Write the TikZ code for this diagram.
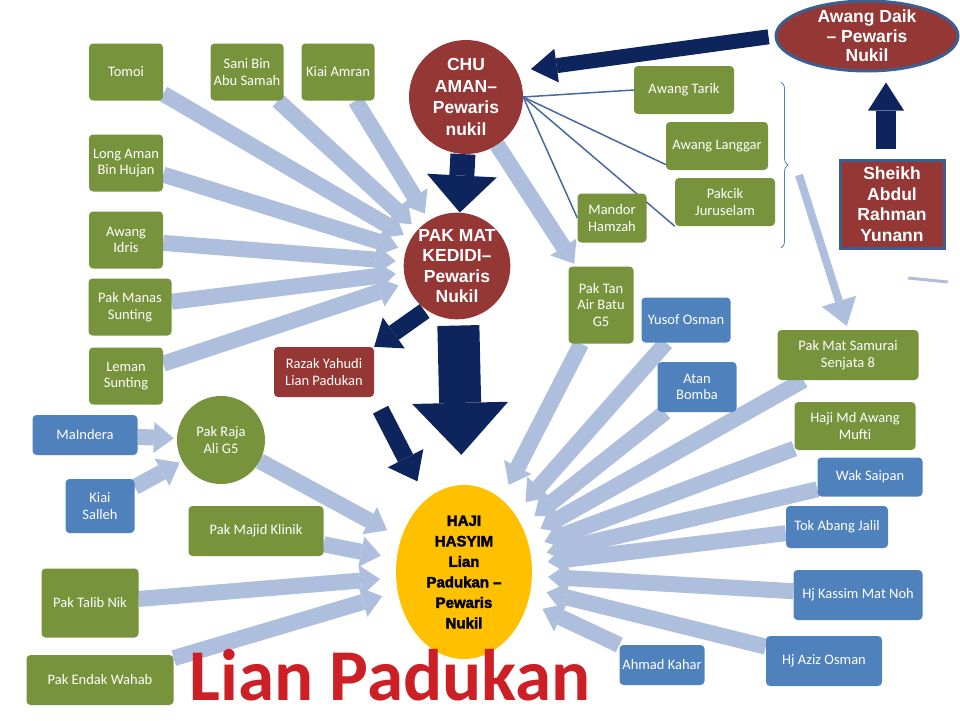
\documentclass[tikz,border=0pt]{standalone}
\usepackage{fontspec}
\setmainfont{Carlito}
\newfontfamily\heavyfont{Liberation Sans}
\newfontfamily\blackfont{Liberation Sans}[BoldFeatures={FakeBold=2.5}]
\usetikzlibrary{arrows.meta, shapes.geometric, decorations.pathreplacing}

\definecolor{leaf}{RGB}{119,147,60}
\definecolor{sky}{RGB}{79,129,189}
\definecolor{brick}{RGB}{149,55,53}
\definecolor{deepnavy}{RGB}{14,36,92}
\definecolor{pale}{RGB}{174,191,222}
\definecolor{linkblue}{RGB}{70,105,160}
\definecolor{rimblue}{RGB}{60,95,145}
\definecolor{gold}{RGB}{255,192,0}
\definecolor{titlered}{RGB}{205,32,38}

\pgfdeclarelayer{back}
\pgfsetlayers{back,main}

\tikzset{
  box/.style={rounded corners=4pt, text=white, align=center, inner sep=2pt,
    font=\fontsize{14.5}{16.5}\selectfont},
  greenbox/.style={box, fill=leaf},
  bluebox/.style={box, fill=sky},
  redbox/.style={box, fill=brick},
  heir/.style={circle, fill=brick, text=white, align=center, inner sep=0pt,
    font=\heavyfont\bfseries\fontsize{17.5}{21.5}\selectfont},
  feed/.style={draw=pale, line width=16pt,
    -{Triangle[length=20pt, width=31pt, line width=0pt]}, shorten >=8pt},
  link/.style={draw=linkblue, line width=1.5pt},
}

\begin{document}
\begin{tikzpicture}[x=1pt, y=-1pt]
    \useasboundingbox (0,0) rectangle (960,720);

    % Heirs
    \node[heir, minimum size=114pt] (chu) at (466,97) {CHU\\AMAN–\\Pewaris\\nukil};
    \node[heir, minimum size=106pt, font=\heavyfont\bfseries\fontsize{17.5}{20.5}\selectfont]
      (kedidi) at (457,266) {PAK MAT\\KEDIDI–\\Pewaris\\Nukil};
    \node[ellipse, fill=gold, align=center, inner sep=0pt, minimum width=136pt, minimum height=174pt,
      font=\blackfont\bfseries\fontsize{15}{20.5}\selectfont] (haji) at (464,572)
      {HAJI\\HASYIM\\Lian\\Padukan –\\Pewaris\\Nukil};
    \node[ellipse, fill=brick, draw=rimblue, line width=3pt, text=white, align=center, inner sep=0pt,
      inner ysep=-6pt, minimum width=182pt, minimum height=70pt,
      font=\heavyfont\bfseries\fontsize{17.5}{19.5}\selectfont] (daik) at (867,36) {Awang Daik\\– Pewaris\\Nukil};
    \node[fill=brick, draw=rimblue, line width=3pt, text=white, align=center,
      minimum width=104pt, minimum height=88pt,
      font=\heavyfont\bfseries\fontsize{17.5}{20.5}\selectfont] (sheikh) at (892,204) {Sheikh\\Abdul\\Rahman\\Yunann};

    % Left group
    \node[greenbox, minimum width=74pt, minimum height=57pt] (tomoi) at (126,72) {Tomoi};
    \node[greenbox, minimum width=73pt, minimum height=57pt] (sani) at (247,72) {Sani Bin\\Abu Samah};
    \node[greenbox, minimum width=73pt, minimum height=57pt] (amran) at (338,72) {Kiai Amran};
    \node[greenbox, minimum width=74pt, minimum height=57pt] (longaman) at (126,163) {Long Aman\\Bin Hujan};
    \node[greenbox, minimum width=74pt, minimum height=57pt] (idris) at (126,240) {Awang\\Idris};
    \node[greenbox, minimum width=83pt, minimum height=57pt] (manas) at (130,307) {Pak Manas\\Sunting};
    \node[greenbox, minimum width=74pt, minimum height=57pt] (leman) at (126,376) {Leman\\Sunting};
    \node[bluebox, minimum width=105pt, minimum height=40pt] (maindera) at (85,435) {MaIndera};
    \node[bluebox, minimum width=69pt, minimum height=54pt] (salleh) at (100,506) {Kiai\\Salleh};
    \node[circle, fill=leaf, text=white, align=center, inner sep=0pt, minimum size=88pt,
      font=\fontsize{14.5}{16.5}\selectfont] (raja) at (221,440) {Pak Raja\\Ali G5};
    \node[redbox, minimum width=100pt, minimum height=50pt] (razak) at (324,372) {Razak Yahudi\\Lian Padukan};
    \node[greenbox, minimum width=135pt, minimum height=50pt] (majid) at (256,531) {Pak Majid Klinik};
    \node[greenbox, minimum width=97pt, minimum height=69pt] (talib) at (90,603) {Pak Talib Nik};
    \node[greenbox, minimum width=147pt, minimum height=50pt] (endak) at (100,680) {Pak Endak Wahab};

    % Right group
    \node[greenbox, minimum width=100pt, minimum height=48pt] (tarik) at (684,90) {Awang Tarik};
    \node[greenbox, minimum width=102pt, minimum height=48pt] (langgar) at (717,146) {Awang Langgar};
    \node[greenbox, minimum width=100pt, minimum height=48pt] (juruselam) at (725,202) {Pakcik\\Juruselam};
    \node[greenbox, minimum width=69pt, minimum height=49pt] (mandor) at (612,218) {Mandor\\Hamzah};
    \node[greenbox, minimum width=65pt, minimum height=77pt] (pantan) at (601,305) {Pak Tan\\Air Batu\\G5};
    \node[bluebox, minimum width=89pt, minimum height=45pt] (yusof) at (686,320) {Yusof Osman};
    \node[bluebox, minimum width=79pt, minimum height=50pt] (atan) at (697,387) {Atan\\Bomba};
    \node[greenbox, minimum width=141pt, minimum height=50pt] (samurai) at (848,355) {Pak Mat Samurai\\Senjata 8};
    \node[greenbox, minimum width=121pt, minimum height=48pt] (mufti) at (855,426) {Haji Md Awang\\Mufti};
    \node[bluebox, minimum width=105pt, minimum height=39pt] (saipan) at (870,477) {Wak Saipan};
    \node[bluebox, minimum width=102pt, minimum height=42pt] (jalil) at (837,527) {Tok Abang Jalil};
    \node[bluebox, minimum width=129pt, minimum height=50pt] (kassim) at (858,595) {Hj Kassim Mat Noh};
    \node[bluebox, minimum width=116pt, minimum height=50pt] (aziz) at (824,661) {Hj Aziz Osman};
    \node[bluebox, minimum width=85pt, minimum height=40pt] (kahar) at (662,665) {Ahmad Kahar};

    % Title
    \node[anchor=base, inner sep=0pt, text=titlered, font=\bfseries\fontsize{73}{73}\selectfont]
      (title) at (390,700) {Lian Padukan};

    % Brace over the three boxes
    \draw[sky, line width=0.8pt, decorate, decoration={brace, amplitude=7pt}] (781,82) -- (781,248);
    \coordinate (bracetip) at (799,175);
    \coordinate (liftx) at (886,0);

    \begin{pgfonlayer}{back}
    % Feeds into Pak Mat Kedidi
    \foreach \src in {tomoi, sani, amran, longaman, idris, manas, leman}
        \draw[feed] (\src) -- (kedidi);

    % Feeds into Haji Hasyim
    \foreach \src in {raja, majid, talib, endak, pantan, yusof, atan, samurai, mufti, saipan, jalil, kassim, aziz, kahar}
        \draw[feed, shorten >=16pt] (\src) -- (haji);

    \draw[feed, shorten >=3pt] (maindera) -- (raja);
    \draw[feed, shorten >=3pt] (salleh) -- (raja);
    \draw[feed, shorten >=3pt] (chu) -- (pantan);
    \draw[feed, line width=8pt, -{Triangle[length=26pt, width=36pt, line width=0pt]}, shorten >=4pt]
        (bracetip) -- (samurai.north);
    \draw[pale, line width=3pt] (908,278) -- (948,282);

    % Thin links from Chu Aman
    \draw[link] (chu.east) -- (tarik.west);
    \draw[link] (chu.east) -- (langgar.200);
    \draw[link] (chu.east) -- (juruselam.south west);
    \draw[link] (chu.east) -- (mandor.west);

    % Main line of descent
    \draw[deepnavy, line width=25pt, -{Triangle[length=37pt, width=70pt, line width=0pt]}] (chu) -- (kedidi);
    \draw[deepnavy, line width=42pt, -{Triangle[length=52pt, width=96pt, line width=0pt]},
        shorten <=6pt, shorten >=30pt] (kedidi) -- (haji);
    \draw[deepnavy, line width=17pt, -{Triangle[length=24pt, width=38pt, line width=0pt]},
        shorten <=2pt] (kedidi.235) -- (razak.north east);
    \draw[deepnavy, line width=17pt, -{Triangle[length=26pt, width=40pt, line width=0pt]},
        shorten <=14pt, shorten >=20pt] (razak.south east) -- (haji);
    \draw[deepnavy, line width=15pt, -{Triangle[length=26pt, width=34pt, line width=0pt]},
        shorten <=6pt, shorten >=14pt] (daik.west) -- (chu.27);
    \draw[deepnavy, line width=20pt, -{Triangle[length=28pt, width=36pt, line width=0pt]},
        shorten <=10pt, shorten >=10pt] (sheikh.north -| liftx) -- (daik.south -| liftx);
    \end{pgfonlayer}
\end{tikzpicture}
\end{document}
